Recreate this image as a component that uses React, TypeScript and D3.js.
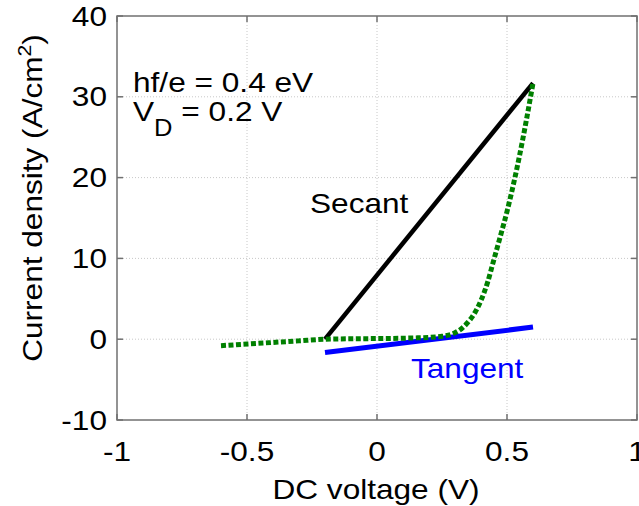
import React from "react";
import * as d3 from "d3";

const xTicks = [-1, -0.5, 0, 0.5, 1];
const xTickLabels = ["-1", "-0.5", "0", "0.5", "1"];
const yTicks = [-10, 0, 10, 20, 30, 40];
const yTickLabels = ["-10", "0", "10", "20", "30", "40"];

const curveV = [-0.6, -0.5, -0.4, -0.3, -0.2, -0.1, 0, 0.1, 0.15, 0.2, 0.225, 0.25, 0.275, 0.3, 0.325, 0.35, 0.375, 0.4, 0.425, 0.45, 0.475, 0.5, 0.525, 0.55, 0.575, 0.6];
const curveJ = [-0.8, -0.6, -0.4, -0.2, 0.0, 0.05, 0.08, 0.12, 0.16, 0.22, 0.28, 0.36, 0.5, 0.8, 1.3, 2.1, 3.2, 4.8, 7.0, 9.9, 12.8, 15.8, 19.2, 23.0, 27.2, 31.7];

const secantV = [-0.2, 0.6];
const secantJ = [0, 31.7];
const tangentV = [-0.2, 0.6];
const tangentJ = [-1.65, 1.5];

const FONT = "'Liberation Sans', Arial, Helvetica, sans-serif";
const SX = 1.17;

function T(props: any) {
  const { x, y, size = 27, anchor = "start", fill = "#000", rotate, sx = SX, children } = props;
  const tr = `translate(${x},${y})${rotate ? ` rotate(${rotate})` : ""} scale(${sx},1)`;
  return (
    <text transform={tr} fontSize={size} textAnchor={anchor} fill={fill} fontFamily={FONT}>
      {children}
    </text>
  );
}

export default function App() {
  const W = 639, H = 506;
  const x = d3.scaleLinear().domain([-1, 1]).range([117, 637]);
  const y = d3.scaleLinear().domain([-10, 40]).range([420, 16]);
  const [x0, x1] = x.range();
  const [y0, y1] = y.range();

  const line = d3.line<[number, number]>().x(d => x(d[0])).y(d => y(d[1]));
  const curvePath = d3.line<[number, number]>().x(d => x(d[0])).y(d => y(d[1])).curve(d3.curveMonotoneX)(
    curveV.map((v, i) => [v, curveJ[i]] as [number, number])
  );
  const secPath = line(secantV.map((v, i) => [v, secantJ[i]] as [number, number]));
  const tanPath = line(tangentV.map((v, i) => [v, tangentJ[i]] as [number, number]));

  const frame = "#707070";
  const tick = 6;

  return (
    <svg width={W} height={H} style={{ position: "absolute", left: 0, top: 0, background: "#fff" }}>
      <rect x={0} y={0} width={W} height={H} fill="#fff" />
      {/* grid */}
      {xTicks.slice(1, -1).map(t => (
        <line key={"gx" + t} x1={x(t)} x2={x(t)} y1={y1} y2={y0} stroke="#c8c8c8" strokeWidth={1} strokeDasharray="1,2" />
      ))}
      {yTicks.slice(1, -1).map(t => (
        <line key={"gy" + t} x1={x0} x2={x1} y1={y(t)} y2={y(t)} stroke="#c8c8c8" strokeWidth={1} strokeDasharray="1,2" />
      ))}
      {/* ticks */}
      {xTicks.map(t => (
        <g key={"tx" + t}>
          <line x1={x(t)} x2={x(t)} y1={y0} y2={y0 - tick} stroke={frame} strokeWidth={1.5} />
          <line x1={x(t)} x2={x(t)} y1={y1} y2={y1 + tick} stroke={frame} strokeWidth={1.5} />
        </g>
      ))}
      {yTicks.map(t => (
        <g key={"ty" + t}>
          <line x1={x0} x2={x0 + tick} y1={y(t)} y2={y(t)} stroke={frame} strokeWidth={1.5} />
          <line x1={x1} x2={x1 - tick} y1={y(t)} y2={y(t)} stroke={frame} strokeWidth={1.5} />
        </g>
      ))}
      <rect x={x0} y={y1} width={x1 - x0} height={y0 - y1} fill="none" stroke={frame} strokeWidth={1.5} />

      {/* data */}
      <path d={tanPath || ""} stroke="#0000ff" strokeWidth={5} fill="none" />
      <path d={secPath || ""} stroke="#000" strokeWidth={4.5} fill="none" />
      <path d={curvePath || ""} stroke="#008000" strokeWidth={5} fill="none" strokeDasharray="5,2.5" />

      {/* tick labels */}
      {xTicks.map((t, i) => (
        <T key={"lx" + t} x={x(t)} y={461} anchor="middle">{xTickLabels[i]}</T>
      ))}
      {yTicks.map((t, i) => (
        <T key={"ly" + t} x={107} y={y(t) + 9.5} anchor="end">{yTickLabels[i]}</T>
      ))}

      {/* axis labels */}
      <T x={376} y={499} anchor="middle">DC voltage (V)</T>
      <T x={42} y={198} anchor="middle" rotate={-90}>
        Current density (A/cm<tspan fontSize={18} dy={-11}>2</tspan><tspan dy={11}>)</tspan>
      </T>

      {/* annotations */}
      <T x={133} y={92} size={28.5} sx={1.11}>hf/e = 0.4 eV</T>
      <T x={133} y={121} size={28.5} sx={1.11}>
        V<tspan fontSize={23} dy={15}>D</tspan><tspan dy={-15}> = 0.2 V</tspan>
      </T>
      <T x={310} y={213}>Secant</T>
      <T x={411} y={378} fill="#0000ff">Tangent</T>
    </svg>
  );
}
